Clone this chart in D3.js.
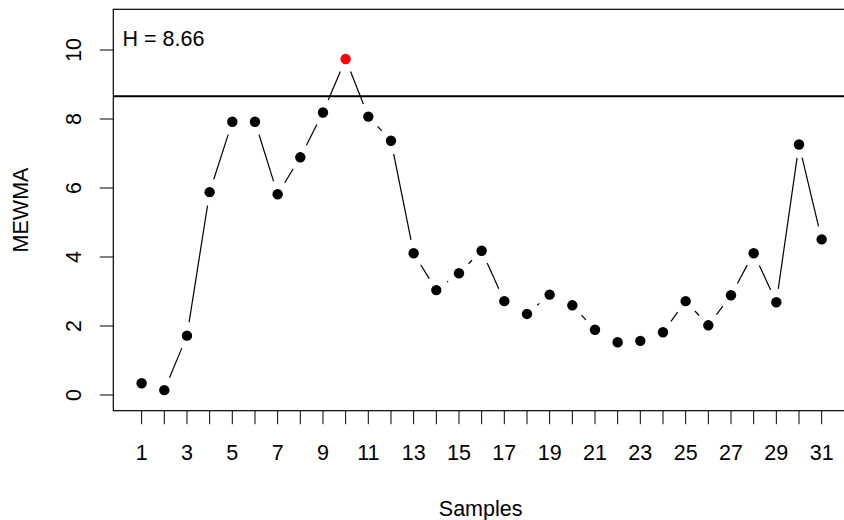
<!DOCTYPE html>
<html lang="en">
<head>
    <meta charset="UTF-8">
    <title>MEWMA chart</title>
    <script src="https://cdn.jsdelivr.net/npm/d3@7"></script>
    <style>
        body { margin: 0; background: #fff; }
        svg { display: block; font-family: "Liberation Sans", Arial, sans-serif; }
    </style>
</head>
<body>
<svg id="chart" width="844" height="520"></svg>
<script>
    // data
    const samples = d3.range(1, 32);
    const mewma = [0.34, 0.14, 1.72, 5.88, 7.92, 7.92, 5.82, 6.89, 8.19, 9.74,
                   8.07, 7.37, 4.11, 3.04, 3.53, 4.18, 2.72, 2.35, 2.91, 2.60,
                   1.89, 1.53, 1.57, 1.82, 2.72, 2.02, 2.89, 4.11, 2.69, 7.26, 4.51];
    const H = 8.66;
    const xTicks = d3.range(1, 32);
    const xTickLabels = d3.range(1, 32, 2);
    const yTicks = [0, 2, 4, 6, 8, 10];

    const svg = d3.select("#chart");
    const mLeft = 113.3, mRight = 850, mTop = 9.3, mBottom = 410.7;

    const x = d3.scaleLinear().domain([-0.25, 32.25]).range([mLeft, mRight]);
    const y = d3.scaleLinear().domain([-0.455, 11.18]).range([mBottom, mTop]);

    const fs = 21.5;

    // box
    svg.append("rect")
        .attr("x", mLeft).attr("y", mTop)
        .attr("width", mRight - mLeft).attr("height", mBottom - mTop)
        .attr("fill", "none").attr("stroke", "#000").attr("stroke-width", 1.2);

    // x axis ticks
    svg.selectAll(".xt").data(xTicks).enter().append("line")
        .attr("x1", d => x(d)).attr("x2", d => x(d))
        .attr("y1", mBottom).attr("y2", mBottom + 13.5)
        .attr("stroke", "#000").attr("stroke-width", 1);
    svg.selectAll(".xl").data(xTickLabels).enter().append("text")
        .attr("x", d => x(d)).attr("y", 453)
        .attr("text-anchor", "middle").attr("dominant-baseline", "central")
        .style("font-size", fs + "px")
        .text(d => d);

    // y axis ticks
    svg.selectAll(".yt").data(yTicks).enter().append("line")
        .attr("x1", mLeft - 13.5).attr("x2", mLeft)
        .attr("y1", d => y(d)).attr("y2", d => y(d))
        .attr("stroke", "#000").attr("stroke-width", 1);
    svg.selectAll(".yl").data(yTicks).enter().append("text")
        .attr("transform", d => `translate(74,${y(d)}) rotate(-90)`)
        .attr("text-anchor", "middle").attr("dominant-baseline", "central")
        .style("font-size", fs + "px")
        .text(d => d);

    // axis titles
    svg.append("text")
        .attr("x", (mLeft + mRight) / 2 - 1).attr("y", 509)
        .attr("text-anchor", "middle").attr("dominant-baseline", "central")
        .style("font-size", fs + "px")
        .text("Samples");
    svg.append("text")
        .attr("transform", `translate(21,${(mTop + mBottom) / 2}) rotate(-90)`)
        .attr("text-anchor", "middle").attr("dominant-baseline", "central")
        .style("font-size", fs + "px")
        .text("MEWMA");

    // control limit
    svg.append("line")
        .attr("x1", mLeft).attr("x2", mRight)
        .attr("y1", y(H)).attr("y2", y(H))
        .attr("stroke", "#000").attr("stroke-width", 2.2);
    svg.append("text")
        .attr("x", 122.5).attr("y", 38.5)
        .attr("dominant-baseline", "central")
        .style("font-size", fs + "px")
        .text("H = " + H.toFixed(2));

    // R type="b": segments with a gap around every point
    const gap = 13.5;
    const pts = samples.map((s, i) => [x(s), y(mewma[i])]);
    const segs = [];
    for (let i = 0; i < pts.length - 1; i++) {
        const [x0, y0] = pts[i], [x1, y1] = pts[i + 1];
        const len = Math.hypot(x1 - x0, y1 - y0);
        if (len <= 2 * gap) continue;
        const ux = (x1 - x0) / len, uy = (y1 - y0) / len;
        segs.push([x0 + ux * gap, y0 + uy * gap, x1 - ux * gap, y1 - uy * gap]);
    }
    svg.selectAll(".seg").data(segs).enter().append("line")
        .attr("x1", d => d[0]).attr("y1", d => d[1])
        .attr("x2", d => d[2]).attr("y2", d => d[3])
        .attr("stroke", "#000").attr("stroke-width", 1.2);

    svg.selectAll(".pt").data(samples).enter().append("circle")
        .attr("cx", d => x(d))
        .attr("cy", (d, i) => y(mewma[i]))
        .attr("r", 5.2)
        .attr("fill", (d, i) => mewma[i] > H ? "#ff0000" : "#000");
</script>
</body>
</html>
